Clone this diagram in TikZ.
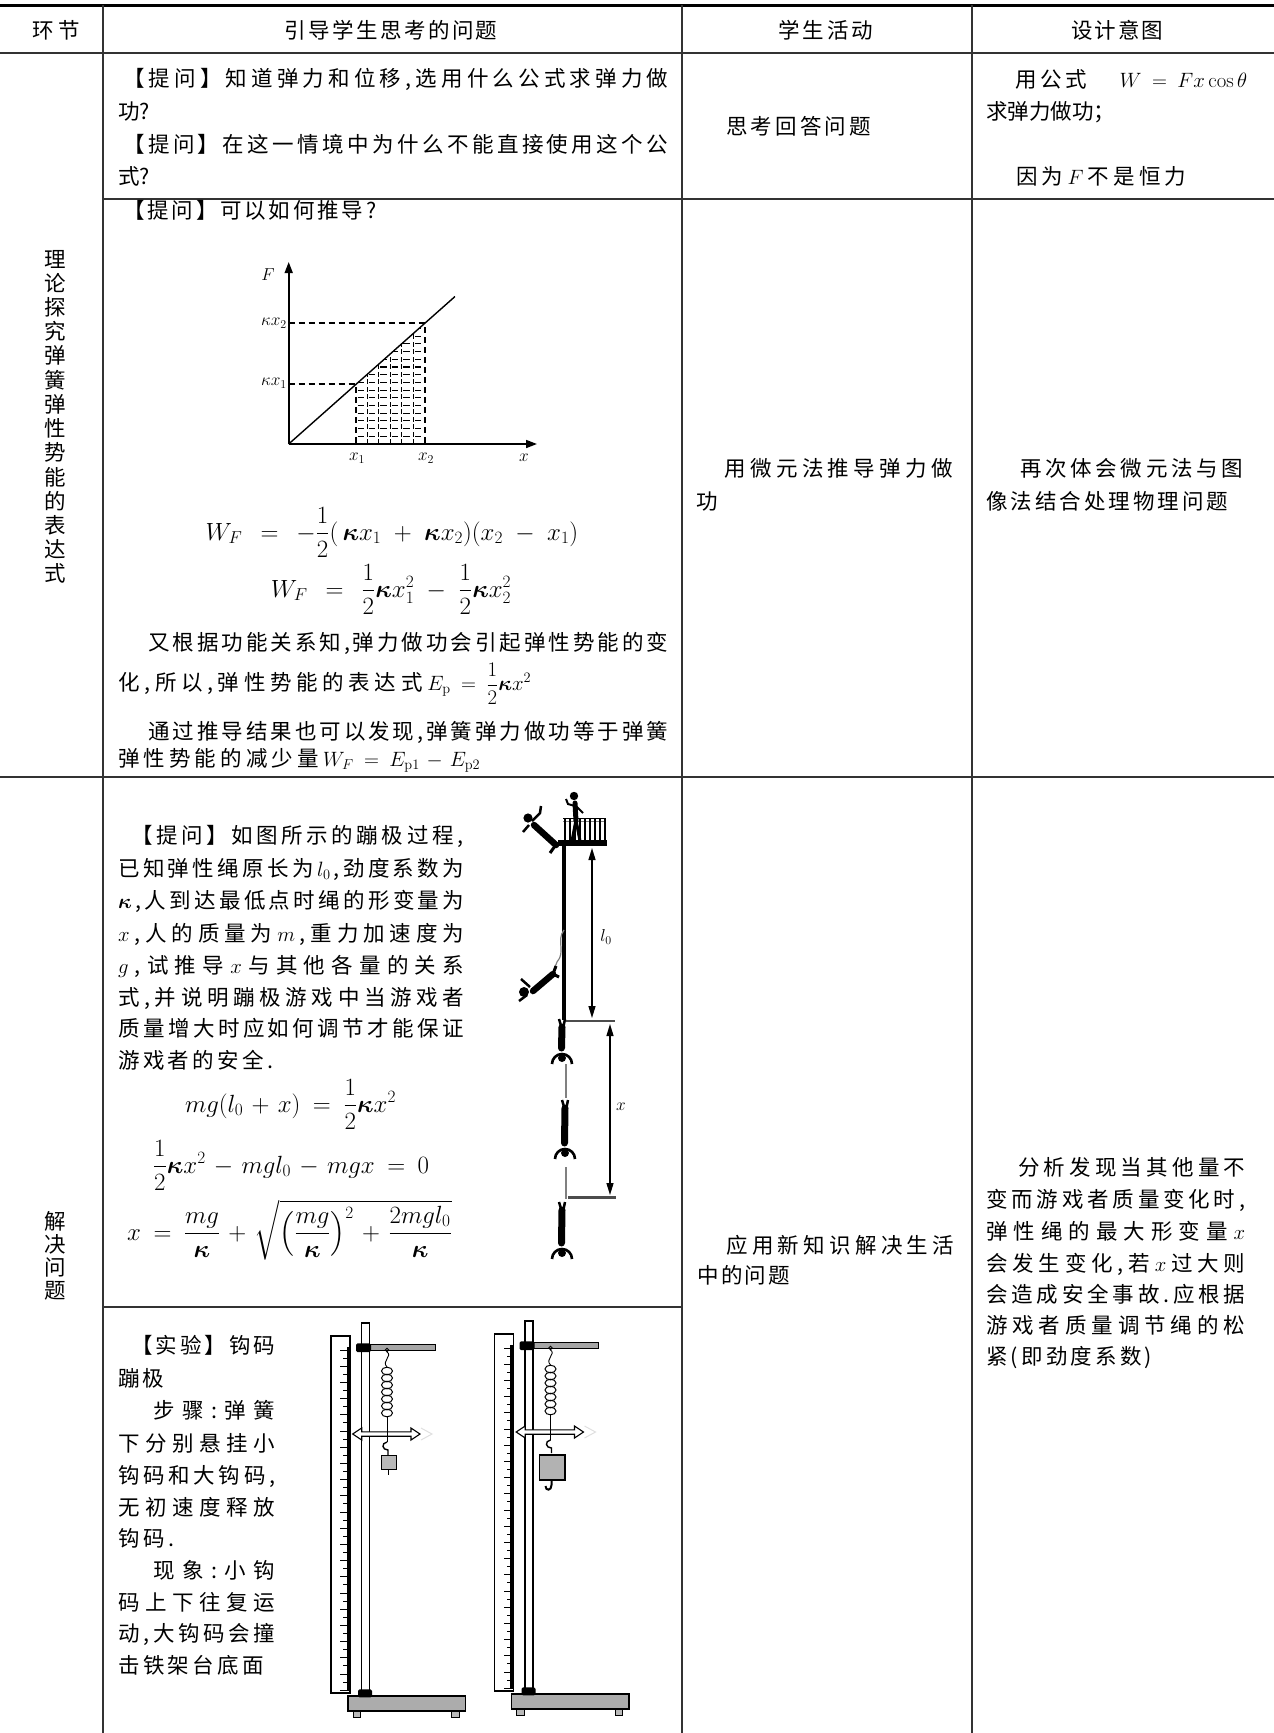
\documentclass[tikz,border=0pt]{standalone}
\usepackage{amsmath,bm}
\usepackage[no-math]{fontspec}
\newfontfamily\cjk{Noto Sans CJK SC}
\usetikzlibrary{arrows.meta}
\def\jend{JEND}
\def\jfirst#1{#1\jloop}
\def\jloop#1{\ifx\jend#1\else\hfil#1\expandafter\jloop\fi}
\newcommand\jl[2]{\hbox to #1{\jfirst#2\jend}}
\newcommand\msp{\thickmuskip=13mu\relax\medmuskip=9mu\relax}
\newcommand\msq{\thickmuskip=9mu\relax\medmuskip=6mu\relax}
\newcommand\dblarrow[3]{%
 \draw[fill=white,line width=1.1pt,line join=miter] (#1,#3) -- (#1+9,#3-6) -- (#1+9,#3-2.2) -- (#2-9,#3-2.2) -- (#2-9,#3-6) -- (#2,#3) -- (#2-9,#3+6) -- (#2-9,#3+2.2) -- (#1+9,#3+2.2) -- (#1+9,#3+6) -- cycle;}
\newcommand\standparts{%
 \draw[fill=white,line width=1.1pt] (331,1336) rectangle (350,1693);
 \fill (346.5,1347) rectangle (349.6,1691);
 \foreach \k in {0,...,42} {\pgfmathsetmacro\tl{mod(\k,2)==0 ? 7 : 4}\draw[line width=0.9pt] (347,1350+\k*8.1) -- ++(-\tl,0);}
 \draw[fill=white,line width=1.2pt] (361.5,1323) rectangle (369.5,1696);
 \draw[fill=gray!65,line width=1.1pt] (348,1696) rectangle (465.5,1711);
 \draw[fill=gray!55,line width=0.9pt] (353.4,1711) rectangle (360.8,1717);
 \draw[fill=gray!55,line width=0.9pt] (451.5,1711) rectangle (459,1717);
 \fill[rounded corners=1.5pt] (358,1689.3) rectangle (372,1697.3);
 \draw[fill=gray!70,line width=1pt] (370,1344.5) rectangle (435,1350);
 \fill[rounded corners=1.5pt] (356,1343.3) rectangle (371,1352);
 \dblarrow{352.7}{420}{1434}
 \draw[gray!25,line width=1pt] (421,1428) -- (432,1434) -- (421,1440);
 \draw[line width=0.9pt] (387,1350) circle (1.8);
 \draw[line width=0.9pt] (387,1352) .. controls (393,1356) and (381,1361) .. (387,1367);
 \foreach \k in {0,...,6} {\draw[line width=1pt] (387,1371+\k*7) ellipse [x radius=5.5,y radius=3.8];}
 \draw[line width=1pt] (387,1417) -- (387,1442);
 \draw[line width=1.4pt] (387,1442) .. controls (381,1443) and (382,1450) .. (388,1450) -- (388,1455);
}
\newcommand\hangfig[3]{%
 \draw[line width=2.5pt] (#1-3,#2) -- (#1,#2+10);
 \draw[line width=2.5pt] (#1+3,#2) -- (#1+1,#2+10);
 \draw[line width=7pt,line cap=round] (#1,#2+8) -- (#1-0.5,#3-10);
 \fill (#1,#3) circle (4);
 \draw[line width=2.6pt] (#1-10,#3+6) arc[start angle=180,end angle=360,radius=10];
}
\begin{document}
\begin{tikzpicture}[x=1pt,y=-1pt,
  t/.style={anchor=base west,inner sep=0pt,font=\cjk\fontsize{21.5}{25}\selectfont},
  tc/.style={anchor=base,inner sep=0pt,font=\cjk\fontsize{21.5}{25}\selectfont},
  vt/.style={anchor=center,inner sep=0pt,font=\cjk\fontsize{21.5}{25}\selectfont},
  m/.style={anchor=base,inner sep=0pt,font=\fontsize{23}{27}\selectfont},
  lbl/.style={inner sep=0pt,font=\fontsize{18}{21}\selectfont},
  hl/.style={draw=black!80,line width=1.6pt},
  vl/.style={draw=black!80,line width=1.2pt},
  dsh/.style={line width=1.8pt,dash pattern=on 6pt off 4pt},
  tip/.style={line width=1.3pt}]
\useasboundingbox (0,0) rectangle (1274,1733);
% ---------- rules ----------
\draw[line width=3pt] (0,5) -- (1274,5);
\draw[hl] (0,53) -- (1274,53);
\draw[hl] (103,199) -- (1274,199);
\draw[hl] (0,777) -- (1274,777);
\draw[hl] (103,1307) -- (682,1307);
\draw[vl] (103,5) -- (103,1733);
\draw[vl] (682,5) -- (682,1733);
\draw[vl] (972,5) -- (972,1733);
% ---------- header ----------
\node[tc] (h1) at (56,38) {\jl{48pt}{环节}};
\node[tc] (h2) at (391,38) {\jl{213pt}{引导学生思考的问题}};
\node[tc] (h3) at (826,38) {\jl{95pt}{学生活动}};
\node[tc] (h4) at (1117,38) {\jl{92pt}{设计意图}};
% ---------- left column ----------
\foreach \c [count=\i from 0] in {理,论,探,究,弹,簧,弹,性,势,能,的,表,达,式}
  \node[vt] (lv\i) at (55,259+\i*24.2) {\c};
\foreach \c [count=\i from 0] in {解,决,问,题}
  \node[vt] (lw\i) at (55,1221+\i*23.3) {\c};
% ---------- row 1 ----------
\node[t] (a1) at (123,86) {\jl{545pt}{【提问】知道弹力和位移,选用什么公式求弹力做}};
\node[t] (a2) at (118,119) {功?};
\node[t] (a3) at (123,152) {\jl{545pt}{【提问】在这一情境中为什么不能直接使用这个公}};
\node[t] (a4) at (118,184) {式?};
\node[t] (b1) at (726,134) {\jl{145pt}{思考回答问题}};
\node[t] (c1) at (1015,87) {\hbox to 232pt{\jl{72pt}{用公式}\hfil$\msq W=Fx\cos\theta$}};
\node[t] (c2) at (986,119) {\jl{128pt}{求弹力做功；}};
\node[t] (c3) at (1016,184) {\jl{170pt}{因为{$F$}不是恒力}};
% ---------- row 2 ----------
\node[t] (d1) at (123,218.5) {\jl{253pt}{【提问】可以如何推导?}};
% graph
\begin{scope}
\clip (356,444) -- (356,384.3) -- (424.8,323.3) -- (424.8,444) -- cycle;
\foreach \i in {1,...,5} \draw[line width=1.1pt,dash pattern=on 5pt off 2.5pt] (356+\i*11.47,444) -- (356+\i*11.47,320);
\foreach \j in {1,...,16} \foreach \i in {0,...,5}
  \draw[line width=1.1pt] (357.5+\i*11.47,444-\j*7.7) -- (364+\i*11.47,444-\j*7.7);
\end{scope}
\draw[dsh] (288.7,384.3) -- (356,384.3) -- (356,444);
\draw[dsh] (288.7,323.3) -- (424.8,323.3) -- (424.8,444);
\draw[line width=1.4pt] (288.7,444) -- (455,296.5);
\draw[line width=1.6pt,-{Triangle[length=11pt,width=8pt]}] (288.7,444) -- (288.7,262);
\draw[line width=1.6pt,-{Triangle[length=11pt,width=8pt]}] (288.7,444) -- (537,444);
\node[lbl] (gF) at (268,275) {$F$};
\node[lbl] (gx) at (524,458) {$x$};
\node[lbl] (gx1) at (357,458) {$x_{1}$};
\node[lbl] (gx2) at (426,458) {$x_{2}$};
\node[lbl,anchor=east] (gk2) at (287,323) {$\kappa x_{2}$};
\node[lbl,anchor=east] (gk1) at (287,383) {$\kappa x_{1}$};
% formulas
\node[m] (f1) at (392,540) {$\msp W_{F}=-\dfrac{1}{2}(\,\bm{\kappa}x_{1}+\bm{\kappa}x_{2})(x_{2}-x_{1})$};
\node[m] (f2) at (391,597) {$\msp W_{F}=\dfrac{1}{2}\bm{\kappa}x_{1}^{2}-\dfrac{1}{2}\bm{\kappa}x_{2}^{2}$};
\node[t] (d2) at (148,650) {\jl{520pt}{又根据功能关系知,弹力做功会引起弹性势能的变}};
\node[t] (d3) at (118,690.5) {\jl{413pt}{化,所以,弹性势能的表达式{$\msq E_{\mathrm{p}}=\dfrac{1}{2}\bm{\kappa}x^{2}$}}};
\node[t] (d4) at (148,739.5) {\jl{520pt}{通过推导结果也可以发现,弹簧弹力做功等于弹簧}};
\node[t] (d5) at (118,766.5) {\jl{362pt}{弹性势能的减少量{$\msq W_{F}=E_{\mathrm{p1}}-E_{\mathrm{p2}}$}}};
\node[t] (e1) at (724,476) {\jl{229pt}{用微元法推导弹力做}};
\node[t] (e2) at (696,509) {功};
\node[t] (g1) at (1020,476) {\jl{223pt}{再次体会微元法与图}};
\node[t] (g2) at (986,509) {\jl{242pt}{像法结合处理物理问题}};
% ---------- row 3 ----------
\node[t] (p1) at (131,843) {\jl{332pt}{【提问】如图所示的蹦极过程,}};
\node[t] (p2) at (118,876) {\jl{346pt}{已知弹性绳原长为{$l_{0}$},劲度系数为}};
\node[t] (p3) at (118,908) {\jl{346pt}{{$\bm{\kappa}$},人到达最低点时绳的形变量为}};
\node[t] (p4) at (118,941) {\jl{346pt}{{$x$},人的质量为{$m$},重力加速度为}};
\node[t] (p5) at (118,973) {\jl{346pt}{{$g$},试推导{$x$}与其他各量的关系}};
\node[t] (p6) at (118,1005) {\jl{346pt}{式,并说明蹦极游戏中当游戏者}};
\node[t] (p7) at (118,1036) {\jl{346pt}{质量增大时应如何调节才能保证}};
\node[t] (p8) at (118,1068) {\jl{155pt}{游戏者的安全.}};
\node[m] (q1) at (290.5,1112) {$\msq mg(l_{0}+x)=\dfrac{1}{2}\bm{\kappa}x^{2}$};
\node[m] (q2) at (291,1173) {$\msq \dfrac{1}{2}\bm{\kappa}x^{2}-mgl_{0}-mgx=0$};
\node[m] (q3) at (289.5,1240) {$\msq x=\dfrac{mg}{\bm{\kappa}}+\sqrt{\left(\dfrac{mg}{\bm{\kappa}}\right)^{2}+\dfrac{2mgl_{0}}{\bm{\kappa}}}$};
% bungee figure
\fill (558,840) rectangle (607,846);
\draw[line width=1pt] (563,818) -- (606,818);
\draw[line width=0.8pt,gray] (563,821) -- (606,821);
\foreach \xx in {565,570,...,605} \draw[line width=1.1pt] (\xx,818) -- (\xx,840);
\fill (574,796) circle (4.2);
\draw[line width=5pt,line cap=round] (575,803) -- (576,821);
\draw[line width=3pt] (576,820) -- (572,841);
\draw[line width=3pt] (576,820) -- (580,841);
\draw[line width=2pt] (575,806) -- (568,804) -- (566,799);
\draw[line width=2pt] (576,806) -- (583,813);
\fill (528,818) circle (4.6);
\draw[line width=6.5pt,line cap=round] (534,825) -- (556,845);
\draw[line width=2.5pt] (532,821) -- (540,813) -- (541,806);
\draw[line width=2.5pt] (529,825) -- (523,832);
\draw[line width=3pt] (555,846) -- (550,853);
\draw[line width=4pt] (564,846) -- (564,1020);
\draw[line width=1.2pt,gray] (564,930) .. controls (556,940) and (566,952) .. (557,962) -- (553,972);
\draw[line width=6.5pt,line cap=round] (553,974) -- (533,991);
\fill (524,992) circle (5);
\draw[line width=2.5pt] (530,987) -- (521,979);
\draw[line width=2.5pt] (527,995) -- (519,1001);
\draw[line width=3pt] (553,974) -- (556,966);
\draw[line width=3pt] (553,974) -- (559,977);
\draw[tip,{Triangle[length=12pt,width=7pt]}-{Triangle[length=12pt,width=7pt]}] (592,848) -- (592,1018);
\draw[line width=2.5pt,black!70] (566,1021) -- (615,1021);
\draw[tip,{Triangle[length=12pt,width=7pt]}-{Triangle[length=12pt,width=7pt]}] (610,1024) -- (610,1195);
\draw[line width=2.5pt,black!70] (568,1197.5) -- (616,1197.5);
\node[lbl] (bl0) at (606,937) {$l_{0}$};
\node[lbl] (bx) at (621,1107) {$x$};
\hangfig{562}{1019}{1058}
\draw[line width=2pt,gray] (566,1064) -- (566,1098);
\hangfig{565}{1100}{1153}
\draw[line width=2pt,gray] (566,1167) -- (566,1199);
\hangfig{562}{1202}{1253}
% ---------- row 4 ----------
\node[t] (w1) at (131,1353) {\jl{144pt}{【实验】钩码}};
\node[t] (w2) at (118,1386) {\jl{46pt}{蹦极}};
\node[t] (w3) at (153,1418) {\jl{122pt}{步骤:弹簧}};
\node[t] (w4) at (118,1451) {\jl{157pt}{下分别悬挂小}};
\node[t] (w5) at (118,1483) {\jl{157pt}{钩码和大钩码,}};
\node[t] (w6) at (118,1515) {\jl{157pt}{无初速度释放}};
\node[t] (w7) at (118,1546) {\jl{56pt}{钩码.}};
\node[t] (w8) at (153,1578) {\jl{122pt}{现象:小钩}};
\node[t] (w9) at (118,1610) {\jl{157pt}{码上下往复运}};
\node[t] (w10) at (118,1641) {\jl{157pt}{动,大钩码会撞}};
\node[t] (w11) at (118,1673) {\jl{146pt}{击铁架台底面}};
% stand 1
\standparts
\draw[fill=gray!55,line width=1pt] (381,1455) rectangle (396,1469);
\draw[line width=1.3pt] (388.5,1469) -- (388.5,1475);
% stand 2
\begin{scope}[shift={(163.5,-2)}]
\standparts
\draw[fill=gray!60,line width=1.1pt] (376,1457) rectangle (401.5,1482);
\draw[line width=2pt] (388,1482) -- (388,1487) .. controls (388,1493) and (382,1493) .. (382,1488);
\end{scope}
% ---------- columns 3 and 4, rows 3-4 ----------
\node[t] (s1) at (726,1253) {\jl{228pt}{应用新知识解决生活}};
\node[t] (s2) at (697,1283) {\jl{93pt}{中的问题}};
\node[t] (u1) at (1018,1175) {\jl{227pt}{分析发现当其他量不}};
\node[t] (u2) at (986,1207) {\jl{259pt}{变而游戏者质量变化时,}};
\node[t] (u3) at (986,1239) {\jl{259pt}{弹性绳的最大形变量{$x$}}};
\node[t] (u4) at (986,1271) {\jl{259pt}{会发生变化,若{$x$}过大则}};
\node[t] (u5) at (986,1302) {\jl{259pt}{会造成安全事故.应根据}};
\node[t] (u6) at (986,1333) {\jl{259pt}{游戏者质量调节绳的松}};
\node[t] (u7) at (986,1364) {\jl{166pt}{紧(即劲度系数)}};
\end{tikzpicture}
\end{document}
